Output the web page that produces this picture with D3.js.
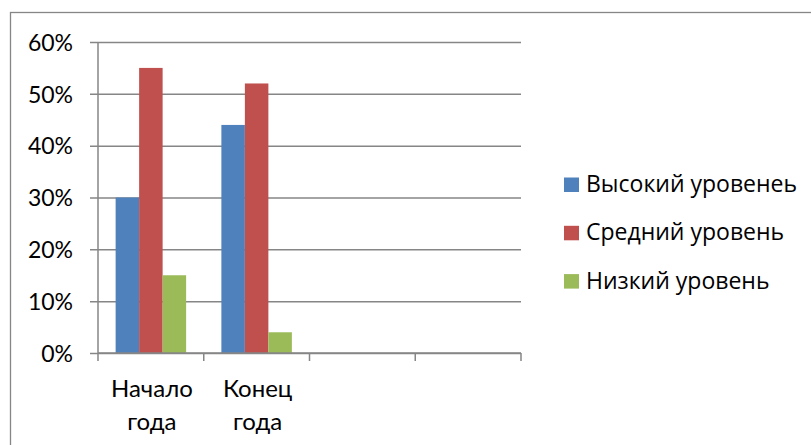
<!DOCTYPE html>
<html>
<head>
<meta charset="UTF-8">
<script src="https://cdn.jsdelivr.net/npm/d3@7"></script>
<style>
  body { margin: 0; background: #fff; }
  svg { display: block; }
  text { fill: #000; }
</style>
</head>
<body>
<div id="chart"></div>
<script>
// data
var categories = [["Начало", "года"], ["Конец", "года"], ["", ""], ["", ""]];
var seriesNames = ["Высокий уровенеь", "Средний уровень", "Низкий уровень"];
var high = [0.30, 0.44, null, null];
var mid = [0.55, 0.52, null, null];
var low = [0.15, 0.04, null, null];
var yTicks = [0, 0.1, 0.2, 0.3, 0.4, 0.5, 0.6];
var colors = ["#4F81BD", "#C0504D", "#9BBB59"];

var width = 811, height = 445;
var plot = {left: 98, right: 521, top: 42, bottom: 353};
var series = [high, mid, low];

var svg = d3.select("#chart").append("svg")
    .attr("width", width)
    .attr("height", height)
    .style("font-family", "Lato, sans-serif");

// outer frame (only left and top edges are inside the picture)
svg.append("rect")
    .attr("x", 10.5).attr("y", 12.5)
    .attr("width", 900).attr("height", 600)
    .attr("fill", "none")
    .attr("stroke", "#868686")
    .attr("stroke-width", 1.3);

var x0 = d3.scaleBand()
    .domain(d3.range(categories.length))
    .range([plot.left, plot.right]);

var x1 = d3.scaleBand()
    .domain(d3.range(series.length))
    .range([0, x0.bandwidth()])
    .paddingOuter(0.75);

var y = d3.scaleLinear()
    .domain([0, 0.6])
    .range([plot.bottom, plot.top]);

// grid lines + y axis
var yAxis = d3.axisLeft(y)
    .tickValues(yTicks)
    .tickSize(-(plot.right - plot.left))
    .tickFormat(d3.format(".0%"));

var gy = svg.append("g")
    .attr("transform", "translate(" + plot.left + ",0)")
    .call(yAxis);
gy.select(".domain").remove();
gy.selectAll(".tick line")
    .attr("x1", -8)
    .attr("stroke", "#868686")
    .attr("stroke-width", 1.5);
gy.selectAll(".tick text")
    .attr("x", -25)
    .attr("dy", "0.36em")
    .style("font-family", "Lato, sans-serif")
    .style("font-size", "23px")
    .attr("fill", "#000");

// y axis line
svg.append("line")
    .attr("x1", plot.left).attr("x2", plot.left)
    .attr("y1", plot.top).attr("y2", plot.bottom)
    .attr("stroke", "#868686").attr("stroke-width", 1.5);

// bars
var groups = svg.append("g").selectAll("g")
    .data(categories.map(function (c, i) { return i; }))
  .enter().append("g")
    .attr("transform", function (i) { return "translate(" + x0(i) + ",0)"; });

groups.selectAll("rect")
    .data(function (i) {
      return series.map(function (s, k) { return {k: k, v: s[i]}; })
        .filter(function (d) { return d.v != null; });
    })
  .enter().append("rect")
    .attr("x", function (d) { return x1(d.k); })
    .attr("width", x1.bandwidth())
    .attr("y", function (d) { return y(d.v); })
    .attr("height", function (d) { return y(0) - y(d.v); })
    .attr("fill", function (d) { return colors[d.k]; });

// x axis
var gx = svg.append("g")
    .attr("transform", "translate(0," + plot.bottom + ")");
gx.append("line")
    .attr("x1", plot.left).attr("x2", plot.right)
    .attr("stroke", "#868686").attr("stroke-width", 1.5);
gx.selectAll(".xtick")
    .data(d3.range(categories.length + 1))
  .enter().append("line")
    .attr("class", "xtick")
    .attr("x1", function (i) { return plot.left + i * x0.step(); })
    .attr("x2", function (i) { return plot.left + i * x0.step(); })
    .attr("y1", 0).attr("y2", 8)
    .attr("stroke", "#868686").attr("stroke-width", 1.5);

// category labels
var lab = svg.append("g").selectAll("text")
    .data(categories)
  .enter().append("text")
    .attr("text-anchor", "middle")
    .style("font-size", "24px")
    .attr("x", function (d, i) { return x0(i) + x0.bandwidth() / 2 + 1; });
lab.append("tspan")
    .attr("x", function (d, i) { return x0(i) + x0.bandwidth() / 2 + 1; })
    .attr("y", 397)
    .text(function (d) { return d[0]; });
lab.append("tspan")
    .attr("x", function (d, i) { return x0(i) + x0.bandwidth() / 2 + 1; })
    .attr("y", 430)
    .text(function (d) { return d[1]; });

// legend
var legend = svg.append("g").selectAll("g")
    .data(seriesNames)
  .enter().append("g")
    .attr("transform", function (d, i) { return "translate(564," + (177.5 + i * 48.3) + ")"; });
legend.append("rect")
    .attr("width", 15).attr("height", 14.5)
    .attr("fill", function (d, i) { return colors[i]; });
legend.append("text")
    .attr("x", 22).attr("y", 14.5)
    .style("font-family", "'Open Sans', sans-serif")
    .style("font-size", "23px")
    .text(function (d) { return d; });
</script>
</body>
</html>
